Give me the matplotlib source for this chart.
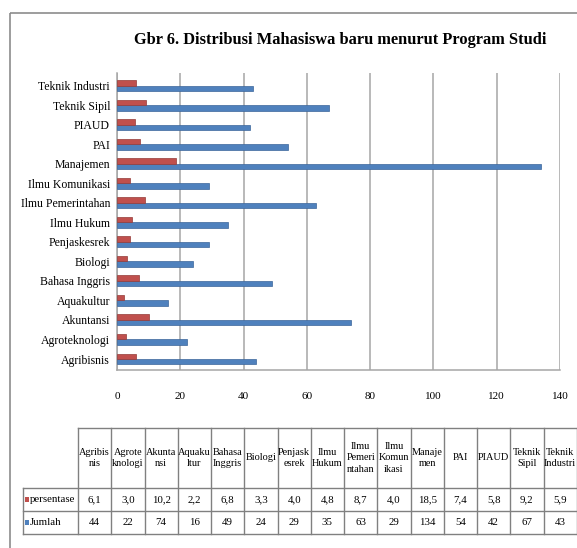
import numpy as np
import matplotlib
matplotlib.use("Agg")
import matplotlib.pyplot as plt
from matplotlib.patches import Rectangle

plt.rcParams['font.family'] = ['Liberation Serif', 'DejaVu Serif']

# ---------------- data ----------------
categories = ["Agribisnis", "Agroteknologi", "Akuntansi", "Aquakultur", "Bahasa Inggris",
              "Biologi", "Penjaskesrek", "Ilmu Hukum", "Ilmu Pemerintahan", "Ilmu Komunikasi",
              "Manajemen", "PAI", "PIAUD", "Teknik Sipil", "Teknik Industri"]
table_headers = ["Agribis\nnis", "Agrote\nknologi", "Akunta\nnsi", "Aquaku\nltur", "Bahasa\nInggris",
                 "Biologi", "Penjask\nesrek", "Ilmu\nHukum", "Ilmu\nPemeri\nntahan", "Ilmu\nKomun\nikasi",
                 "Manaje\nmen", "PAI", "PIAUD", "Teknik\nSipil", "Teknik\nIndustri"]
persentase = [6.1, 3.0, 10.2, 2.2, 6.8, 3.3, 4.0, 4.8, 8.7, 4.0, 18.5, 7.4, 5.8, 9.2, 5.9]
jumlah = [44, 22, 74, 16, 49, 24, 29, 35, 63, 29, 134, 54, 42, 67, 43]
series_names = ["persentase", "Jumlah"]
xticks = [0, 20, 40, 60, 80, 100, 120, 140]
title = "Gbr 6. Distribusi Mahasiswa baru menurut Program Studi"

RED = "#C0504D"
BLUE = "#4F81BD"
W, H = 577, 548

fig = plt.figure(figsize=(W / 100, H / 100), dpi=100)

def fx(px):
    return px / W

def fy(py):
    return 1 - py / H

# ---------------- overlay (pixel coordinates) ----------------
tax = fig.add_axes([0, 0, 1, 1])
tax.set_xlim(0, W)
tax.set_ylim(H, 0)
tax.axis("off")

# outer frame
tax.add_patch(Rectangle((10, 13), 700, 700, fill=False, edgecolor="#8C8C8C", linewidth=1.2))

# title
tax.text(340, 40, title, ha="center", va="center", fontsize=11.8, fontweight="bold")

# ---------------- bar chart ----------------
ax = fig.add_axes([fx(117), fy(370), fx(560) - fx(117), fy(73) - fy(370)])
y = np.arange(len(categories))
h = 0.28
ax.barh(y - 0.14, jumlah, height=h, color=BLUE, edgecolor="#3B659A", linewidth=0.5, zorder=3)
ax.barh(y + 0.14, persentase, height=h, color=RED, edgecolor="#943A37", linewidth=0.5, zorder=3)

ax.set_xlim(0, 140)
ax.set_ylim(-0.563, 14.64)
ax.set_xticks(xticks)
ax.set_xticklabels([str(t) for t in xticks], fontsize=8)
ax.set_yticks(y)
ax.set_yticklabels(categories, fontsize=8.5)
ax.tick_params(axis="x", length=0, pad=16)
ax.tick_params(axis="y", length=0, pad=5)
ax.grid(axis="x", color="#A6A6A6", linewidth=1.1, zorder=0)
for s in ["top", "right"]:
    ax.spines[s].set_visible(False)
for s in ["left", "bottom"]:
    ax.spines[s].set_color("#A6A6A6")
    ax.spines[s].set_linewidth(1.1)

# ---------------- data table ----------------
tbl_left, data_left, tbl_right = 22.7, 78.0, 576.75
tbl_top, head_bot, row_mid, tbl_bottom = 428, 488, 511, 534
ncol = len(categories)
col_w = (tbl_right - data_left) / ncol
edge = "#808080"
lw = 1.0

# horizontal lines
tax.plot([data_left, tbl_right], [tbl_top, tbl_top], color=edge, lw=lw)
for yy in [head_bot, row_mid, tbl_bottom]:
    tax.plot([tbl_left, tbl_right], [yy, yy], color=edge, lw=lw)
# vertical lines
tax.plot([tbl_left, tbl_left], [head_bot, tbl_bottom], color=edge, lw=lw)
for k in range(ncol + 1):
    xx = data_left + k * col_w
    tax.plot([xx, xx], [tbl_top, tbl_bottom], color=edge, lw=lw)

# header texts
for j, name in enumerate(table_headers):
    cx = data_left + (j + 0.5) * col_w
    tax.text(cx, (tbl_top + head_bot) / 2, name, ha="center", va="center",
             fontsize=7.4, linespacing=1.3)

rows = [[f"{v:.1f}".replace(".", ",") for v in persentase], [str(v) for v in jumlah]]
row_tops = [head_bot, row_mid]
row_bots = [row_mid, tbl_bottom]
for i, (nm, vals, col) in enumerate(zip(series_names, rows, [RED, BLUE])):
    cy = (row_tops[i] + row_bots[i]) / 2
    tax.add_patch(Rectangle((24.5, cy - 3), 4.5, 5, facecolor=col, edgecolor="none"))
    tax.text(29.5, cy, nm, ha="left", va="center", fontsize=7.8)
    for j, v in enumerate(vals):
        cx = data_left + (j + 0.5) * col_w
        tax.text(cx, cy, v, ha="center", va="center", fontsize=7.8)

fig.savefig("out.png", dpi=100)
